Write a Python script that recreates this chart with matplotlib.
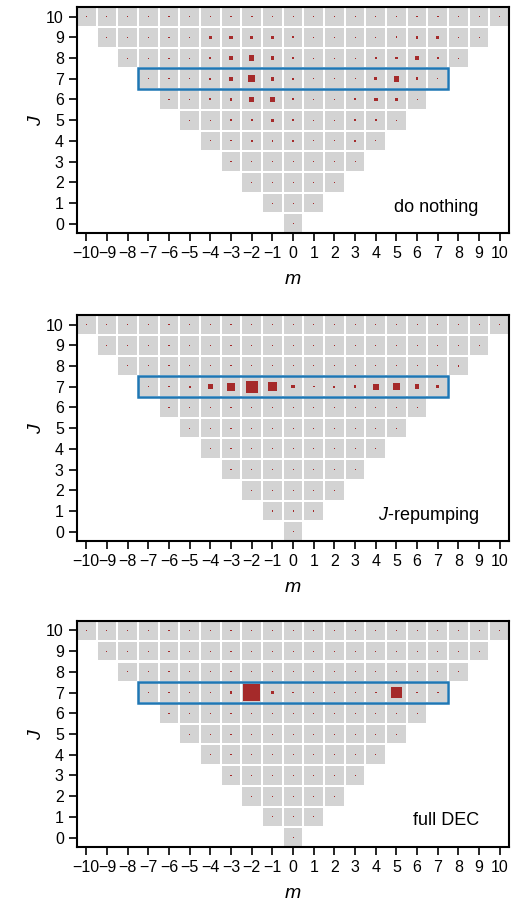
import numpy as np
import matplotlib
matplotlib.use('Agg')
import matplotlib.pyplot as plt
from matplotlib.patches import Rectangle

plt.rcParams['font.family'] = ['Liberation Sans', 'DejaVu Sans']
plt.rcParams['mathtext.fontset'] = 'custom'
plt.rcParams['mathtext.it'] = 'Liberation Sans:italic'
plt.rcParams['mathtext.rm'] = 'Liberation Sans'

t = 0.01  # tiny residual population

J_values = list(range(11))
m_ticks = list(range(-10, 11))
panel_labels = ['do nothing', '$J$-repumping', 'full DEC']

# relative populations, rows J = 0..10, each row m = -J..J
nothing_pop = [
    [t],
    [t, t, t],
    [t] * 5,
    [t] * 7,
    [t, t, .05, .05, .05, t, t, .05, t],
    [t, t, .05, .1, .17, .05, t, t, .1, .1, t],
    [t, t, .07, .13, .53, .4, .07, t, t, .07, .25, .13, t],
    [t, t, t, .07, .25, 1.0, .25, .07, t, t, t, .13, .6, .13, t],
    [t, t, t, t, .07, .35, .53, .25, .07, t, t, t, .07, .13, .25, .07, t],
    [t, t, t, t, t, .13, .2, .2, .13, .05, t, t, t, t, .05, .13, .13, t, t],
    [t, t, t, t, t, .05, .05, .05, .05, .05, t, t, t, t, t, t, .05, .05, .05, t, t],
]

repump_pop = [
    [t],
    [t, t, t],
    [t] * 5,
    [t] * 7,
    [t] * 9,
    [t] * 11,
    [t] * 13,
    [t, t, .07, .46, 1.19, 2.68, 1.5, .2, .05, .07, .13, .67, .83, .4, .13],
    [t] * 16 + [.05],
    [t] * 19,
    [t] * 21,
]

dec_pop = [
    [t],
    [t, t, t],
    [t] * 5,
    [t] * 7,
    [t] * 9,
    [t] * 11,
    [t] * 13,
    [t, t, .05, .02, .13, 5.2, .1, .05, t, .05, t, .05, 2.1, .05, .05],
    [t] * 17,
    [t] * 19,
    [t] * 21,
]

panels = [nothing_pop, repump_pop, dec_pop]

fig = plt.figure(figsize=(5.15, 9.07), dpi=100)
bottoms = [0.743, 0.4035, 0.0662]

for pop, label, b in zip(panels, panel_labels, bottoms):
    ax = fig.add_axes([0.1495, b, 0.839, 0.249])
    for J in J_values:
        row = pop[J]
        for k, m in enumerate(range(-J, J + 1)):
            ax.add_patch(Rectangle((m - 0.45, J - 0.45), 0.9, 0.9,
                                   facecolor='lightgrey', edgecolor='none'))
            side = max(0.356 * np.sqrt(row[k]), 0.05)
            ax.add_patch(Rectangle((m - side / 2, J - side / 2), side, side,
                                   facecolor='#a52a2a', edgecolor='none'))
    ax.add_patch(Rectangle((-7.5, 6.5), 15, 1, facecolor='none',
                           edgecolor='#1f77b4', lw=1.8, zorder=5))
    ax.set_xlim(-10.45, 10.45)
    ax.set_ylim(-0.45, 10.45)
    ax.set_xticks(m_ticks)
    ax.set_yticks(J_values)
    ax.tick_params(labelsize=11.5, length=6, width=1.2)
    for s in ax.spines.values():
        s.set_linewidth(1.5)
    ax.set_xlabel('$m$', fontsize=14, labelpad=7)
    ax.set_ylabel('$J$', fontsize=14, labelpad=1)
    ax.text(0.93, 0.115, label, transform=ax.transAxes, ha='right',
            va='center', fontsize=13)

fig.savefig('out.png', dpi=100)
